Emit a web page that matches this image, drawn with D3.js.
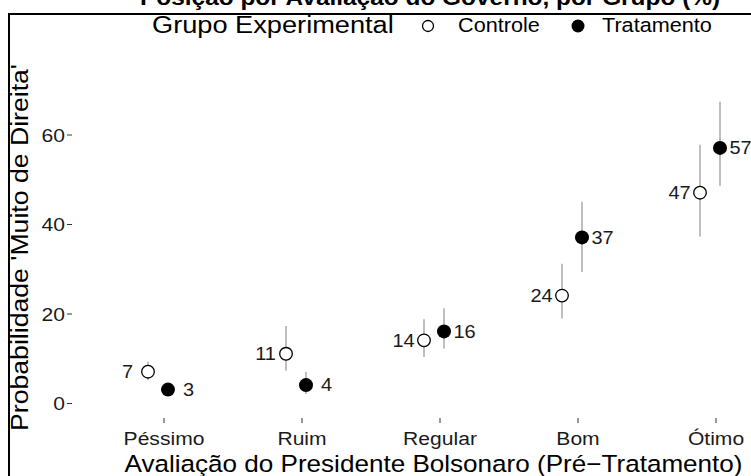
<!DOCTYPE html>
<html>
<head>
<meta charset="utf-8">
<script src="https://cdn.jsdelivr.net/npm/d3@7"></script>
<style>
  html, body { margin: 0; padding: 0; background: #fff; }
  svg { display: block; font-family: "Liberation Sans", Arial, Helvetica, sans-serif; }
</style>
</head>
<body>
<svg id="chart" width="751" height="476"></svg>
<script>
// Avaliação pré-tratamento do presidente (categorias do eixo x)
const categories = ["Péssimo", "Ruim", "Regular", "Bom", "Ótimo"];
const groups = ["Controle", "Tratamento"];

// Probabilidade estimada (%) e intervalos de confiança por grupo
const controleValues = [7, 11, 14, 24, 47];
const controleLow = [5.1, 7.2, 10.3, 18.9, 37.2];
const controleHigh = [9.2, 17.2, 18.7, 31.1, 57.7];

const tratamentoValues = [3, 4, 16, 37, 57];
const tratamentoLow = [1.5, 2.0, 12.2, 29.3, 48.5];
const tratamentoHigh = [4.3, 7.0, 21.2, 45.0, 67.3];

const yTicks = [0, 20, 40, 60];

const titleText = "Posição por Avaliação do Governo, por Grupo (%)";
const legendTitle = "Grupo Experimental";
const xTitle = "Avaliação do Presidente Bolsonaro (Pré\u2212Tratamento)";
const yTitle = "Probabilidade 'Muito de Direita'";

// Glyphs are drawn slightly wide, as in the original export
const SX = 1.11;

const svg = d3.select("#chart");

const x = d3.scalePoint().domain(categories).range([163.5, 715.5]);
const y = d3.scaleLinear().domain([0, 60]).range([403, 134.5]);
const dodge = d3.scaleOrdinal().domain(groups).range([-15.5, 4.5]);

const series = groups.map((g, gi) => {
  const vals = gi === 0 ? controleValues : tratamentoValues;
  const lo = gi === 0 ? controleLow : tratamentoLow;
  const hi = gi === 0 ? controleHigh : tratamentoHigh;
  return categories.map((c, i) => ({ group: g, cat: c, value: vals[i], lo: lo[i], hi: hi[i] }));
});
const points = series.flat();

function placeText(sel, px, py, rot) {
  return sel.attr("transform", `translate(${px},${py})${rot ? ` rotate(${rot})` : ""} scale(${SX},1)`);
}

// Title (bold, at the very top)
placeText(svg.append("text"), 140, 5)
  .attr("font-weight", "bold")
  .attr("font-size", 22)
  .attr("fill", "#000")
  .text(titleText);

// Outer frame
svg.append("rect")
  .attr("x", 9).attr("y", 14)
  .attr("width", 800).attr("height", 500)
  .attr("fill", "none")
  .attr("stroke", "#000")
  .attr("stroke-width", 2);

// Legend
const legend = svg.append("g").attr("fill", "#000");
placeText(legend.append("text"), 152, 33).attr("font-size", 24.5).text(legendTitle);
legend.append("circle").attr("cx", 428).attr("cy", 26).attr("r", 5.5)
  .attr("fill", "#fff").attr("stroke", "#000").attr("stroke-width", 1.3);
placeText(legend.append("text"), 458, 32).attr("font-size", 19.5).text(groups[0]);
legend.append("circle").attr("cx", 578).attr("cy", 26).attr("r", 6.5)
  .attr("fill", "#000");
placeText(legend.append("text"), 602, 32).attr("font-size", 19.5).text(groups[1]);

// Axes
const yAxis = svg.append("g")
  .attr("transform", "translate(72,0)")
  .call(d3.axisLeft(y).tickValues(yTicks).tickSize(5).tickPadding(2));
yAxis.select(".domain").remove();
yAxis.selectAll(".tick line").attr("stroke", "#333");
yAxis.selectAll(".tick text")
  .attr("x", 0).attr("dy", null).attr("dominant-baseline", "central")
  .attr("transform", `translate(-7,0) scale(${SX},1)`)
  .attr("font-size", 19).attr("fill", "#1a1a1a")
  .attr("font-family", "Liberation Sans, Arial, sans-serif");

const xAxis = svg.append("g")
  .attr("transform", "translate(0,418)")
  .call(d3.axisBottom(x).tickSize(5).tickPadding(4));
xAxis.select(".domain").remove();
xAxis.selectAll(".tick line").attr("stroke", "#333");
xAxis.selectAll(".tick text")
  .attr("y", 0).attr("dy", null)
  .attr("transform", `translate(0,27) scale(${SX},1)`)
  .attr("font-size", 19).attr("fill", "#1a1a1a")
  .attr("font-family", "Liberation Sans, Arial, sans-serif");

// Axis titles
placeText(svg.append("text"), 433.5, 471.5)
  .attr("text-anchor", "middle")
  .attr("font-size", 23.5)
  .attr("fill", "#000")
  .text(xTitle);

placeText(svg.append("text"), 27.5, 247.5, -90)
  .attr("text-anchor", "middle")
  .attr("font-size", 24)
  .attr("fill", "#000")
  .text(yTitle);

// Error bars
svg.append("g").selectAll("line")
  .data(points)
  .join("line")
  .attr("x1", d => x(d.cat) + dodge(d.group))
  .attr("x2", d => x(d.cat) + dodge(d.group))
  .attr("y1", d => y(d.lo))
  .attr("y2", d => y(d.hi))
  .attr("stroke", "#bfbfbf")
  .attr("stroke-width", 2);

// Points
svg.append("g").selectAll("circle")
  .data(points)
  .join("circle")
  .attr("cx", d => x(d.cat) + dodge(d.group))
  .attr("cy", d => y(d.value))
  .attr("r", d => d.group === groups[0] ? 6.3 : 7)
  .attr("fill", d => d.group === groups[0] ? "#fff" : "#000")
  .attr("stroke", "#000")
  .attr("stroke-width", d => d.group === groups[0] ? 1.3 : 0);

// Value labels
svg.append("g").selectAll("text")
  .data(points)
  .join("text")
  .attr("transform", d => {
    const px = x(d.cat) + dodge(d.group) + (d.group === groups[0] ? -20.5 : 20.5);
    return `translate(${px},${y(d.value)}) scale(${SX},1)`;
  })
  .attr("dominant-baseline", "central")
  .attr("text-anchor", "middle")
  .attr("font-size", 18)
  .attr("fill", "#1a1a1a")
  .text(d => d3.format("d")(d.value));
</script>
</body>
</html>
